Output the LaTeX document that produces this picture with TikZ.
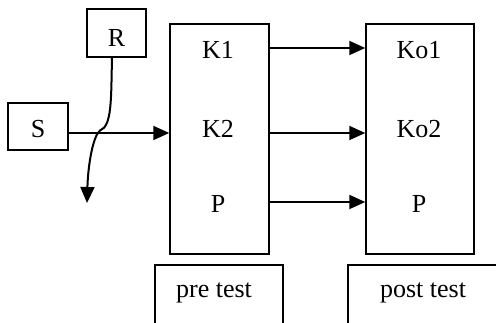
\documentclass[tikz,border=0pt]{standalone}
\usepackage{fontspec}
\setmainfont{Liberation Serif}
\usetikzlibrary{arrows.meta}
\begin{document}
\begin{tikzpicture}[x=1pt,y=-1pt,
  box/.style={draw,line width=1.5pt,inner sep=0pt},
  lbl/.style={font=\fontsize{26}{30}\selectfont,anchor=base,inner sep=0pt},
  arr/.style={line width=2pt,-{Triangle[length=16pt,width=14pt]}}]
\clip (0,0) rectangle (496,323);
\fill[white] (0,0) rectangle (496,323);
% boxes
\node[box,minimum width=59pt,minimum height=48pt] (R) at (116.5,33) {};
\node[box,minimum width=60pt,minimum height=47pt] (S) at (38,126.5) {};
\node[box,minimum width=99pt,minimum height=230pt] (pre) at (219.5,139) {};
\node[box,minimum width=108pt,minimum height=230pt] (post) at (420,139) {};
\node[box,minimum width=128pt,minimum height=80pt] (pretest) at (219,305) {};
\node[box,minimum width=170pt,minimum height=80pt] (posttest) at (433,305) {};
% labels
\node[lbl] (rl) at (116.5,47) {R};
\node[lbl] (sl) at (38,138) {S};
\node[lbl] (k1) at (218,59) {K1};
\node[lbl] (k2) at (218,138) {K2};
\node[lbl] (p1) at (218,213) {P};
\node[lbl] (ko1) at (419,59) {Ko1};
\node[lbl] (ko2) at (419,138) {Ko2};
\node[lbl] (p2) at (419,213) {P};
\node[lbl] (prel) at (214,298) {pre test};
\node[lbl] (postl) at (423,298) {post test};
% connectors
\coordinate (a1) at (0,48);
\coordinate (a2) at (0,133);
\coordinate (a3) at (0,202);
\draw[arr] (pre.east |- a1) -- (post.west |- a1);
\draw[arr] (pre.east |- a2) -- (post.west |- a2);
\draw[arr] (pre.east |- a3) -- (post.west |- a3);
\draw[arr] (S.east |- a2) -- (pre.west |- a2);
\coordinate (rend) at (87,203);
\draw[arr] (R.south -| 112,0) .. controls (111,100) and (112,126) .. (100,130.5)
  .. controls (93,136) and (88,165) .. (rend);
\end{tikzpicture}
\end{document}
